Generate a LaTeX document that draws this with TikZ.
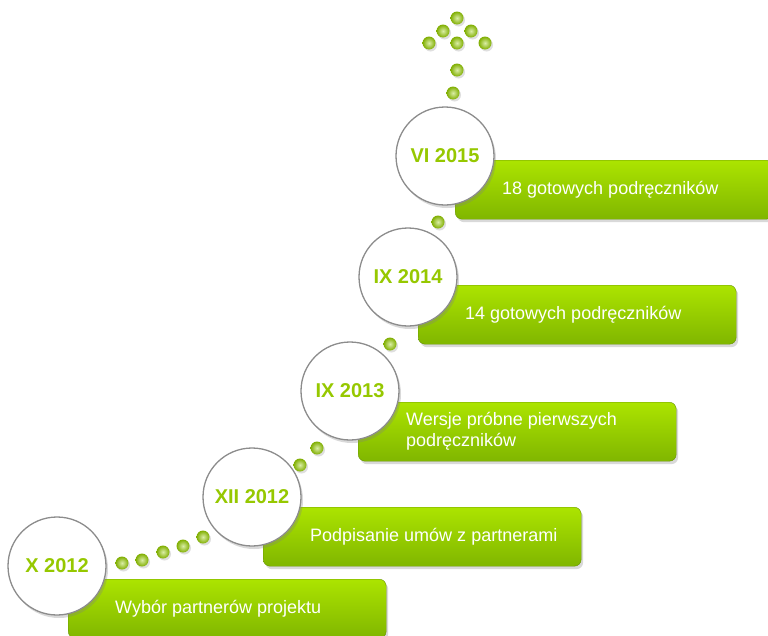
\documentclass[tikz,border=0pt]{standalone}
\usepackage{fontspec}
\setmainfont{Liberation Sans}
\usetikzlibrary{shadows, positioning}

\definecolor{datecol}{RGB}{150,200,0}
\definecolor{bartop}{RGB}{172,228,0}
\definecolor{barbot}{RGB}{128,182,0}
\definecolor{beadcol}{RGB}{150,205,0}

\tikzset{
  stepbar/.style={anchor=north west, minimum width=318pt, minimum height=59pt,
    rounded corners=7pt, top color=bartop, bottom color=barbot,
    draw=barbot!80!black, line width=0.4pt,
    drop shadow={opacity=0.3, shadow xshift=2pt, shadow yshift=-3pt}},
  bartext/.style={anchor=west, text=white, align=left,
    font=\fontsize{18}{21}\selectfont, inner sep=0pt},
  datecircle/.style={circle, minimum size=98pt, inner sep=0pt, fill=white,
    draw=black!45, line width=1.3pt, text=datecol,
    font=\fontsize{20}{22}\selectfont\bfseries,
    drop shadow={opacity=0.3, shadow xshift=2pt, shadow yshift=-3pt}},
  bead/.style={circle, minimum size=13pt, inner sep=0pt,
    inner color=beadcol!35!white, outer color=beadcol!85!black,
    drop shadow={opacity=0.25, shadow xshift=1.5pt, shadow yshift=-2pt}}
}

\begin{document}
\begin{tikzpicture}[x=1pt, y=-1pt]
  \useasboundingbox (0,0) rectangle (768,635);

  % Green bars
  \node[stepbar] (bar1) at (68,579) {};
  \node[stepbar] (bar2) at (263,507) {};
  \node[stepbar] (bar3) at (358,402) {};
  \node[stepbar] (bar4) at (418,285) {};
  \node[stepbar] (bar5) at (455,160) {};

  % Bar texts
  \node[bartext] (txt1) at ([xshift=47pt]bar1.west) {Wybór partnerów projektu};
  \node[bartext] (txt2) at ([xshift=47pt]bar2.west) {Podpisanie umów z partnerami};
  \node[bartext] (txt3) at ([xshift=48pt]bar3.west) {Wersje próbne pierwszych\\podręczników};
  \node[bartext] (txt4) at ([xshift=47pt]bar4.west) {14 gotowych podręczników};
  \node[bartext] (txt5) at ([xshift=47pt]bar5.west) {18 gotowych podręczników};

  % Beads between the dates and the arrow on top
  \foreach \px/\py [count=\i] in {122/563, 142/560, 163/552, 183/546, 203/537,
      300/465, 317/448, 390/344, 438/222, 453/93, 457/70,
      457/43, 429/43, 485/43, 443/31, 471/31, 457/18}
    \node[bead] (bead\i) at (\px,\py) {};

  % Date circles
  \node[datecircle] (d1) at (57,566) {X 2012};
  \node[datecircle] (d2) at (252,497) {XII 2012};
  \node[datecircle] (d3) at (350,391) {IX 2013};
  \node[datecircle] (d4) at (408,277) {IX 2014};
  \node[datecircle] (d5) at (445,156) {VI 2015};
\end{tikzpicture}
\end{document}
